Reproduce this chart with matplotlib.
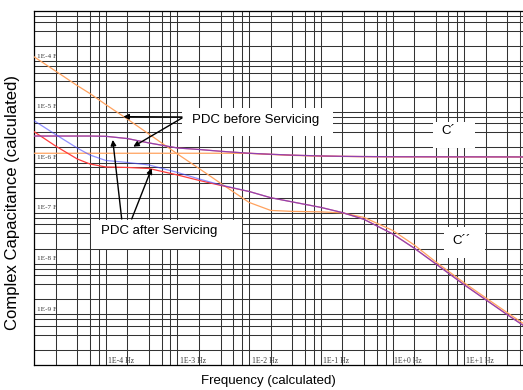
"""
PDC derived complex capacitance (C' and C'') versus calculated frequency,
before and after servicing, drawn on a log-log grid.
"""

import matplotlib
matplotlib.use('Agg')
import matplotlib.pyplot as plt
from matplotlib.ticker import FixedLocator, NullLocator
from matplotlib.patches import Rectangle

W, H = 523, 390

# calculated frequency in Hz
freq = [5e-6, 1e-5, 2e-5, 3e-5, 5e-5, 1e-4, 2e-4, 5e-4, 1e-3, 2e-3, 5e-3,
        1e-2, 2e-2, 5e-2, 0.1, 0.2, 0.5, 1, 2, 5, 10, 20, 33]

# before servicing (orange)
before_c1 = [7.63e-7, 7.63e-7, 7.63e-7, 7.63e-7, 7.63e-7, 7.63e-7, 7.63e-7,
             7.63e-7, 7.63e-7, 7.63e-7, 7.58e-7, 7.22e-7, 6.92e-7, 6.69e-7,
             6.60e-7, 6.53e-7, 6.50e-7, 6.49e-7, 6.48e-7, 6.47e-7, 6.46e-7,
             6.46e-7, 6.45e-7]
before_c2 = [6.15e-5, 3.21e-5, 1.66e-5, 1.16e-5, 7.0e-6, 3.62e-6, 1.83e-6,
             7.39e-7, 3.82e-7, 1.95e-7, 8.15e-8, 5.66e-8, 5.42e-8, 5.30e-8,
             5.06e-8, 4.12e-8, 2.29e-8, 1.18e-8, 5.46e-9, 2.10e-9, 1.06e-9,
             5.38e-10, 3.34e-10]

# after servicing, two measurements (red and blue), same C'
after_c1 = [1.67e-6, 1.67e-6, 1.67e-6, 1.67e-6, 1.65e-6, 1.49e-6, 1.22e-6,
            9.7e-7, 9.06e-7, 8.35e-7, 7.63e-7, 7.29e-7, 7.0e-7, 6.75e-7,
            6.63e-7, 6.57e-7, 6.51e-7, 6.50e-7, 6.49e-7, 6.48e-7, 6.47e-7,
            6.46e-7, 6.45e-7]
after_blue_c2 = [3.36e-6, 1.79e-6, 9.7e-7, 7.06e-7, 5.50e-7, 5.02e-7, 4.48e-7,
                 3.19e-7, 2.37e-7, 1.81e-7, 1.34e-7, 1.01e-7, 8.34e-8, 6.50e-8,
                 5.13e-8, 3.77e-8, 1.95e-8, 1.02e-8, 4.99e-9, 1.92e-9, 9.7e-10,
                 4.91e-10, 3.05e-10]
after_red_c2 = [2.04e-6, 1.06e-6, 5.89e-7, 4.69e-7, 4.09e-7, 4.00e-7, 3.82e-7,
                2.84e-7, 2.22e-7, 1.77e-7, 1.34e-7, 1.01e-7, 8.34e-8, 6.50e-8,
                5.13e-8, 3.77e-8, 1.95e-8, 1.02e-8, 4.99e-9, 1.92e-9, 9.7e-10,
                4.91e-10, 3.05e-10]

x_decades = [-4, -3, -2, -1, 0, 1]
y_decades = [-4, -5, -6, -7, -8, -9]

ORANGE = '#FFA25E'
RED = '#FF3C3C'
BLUE = '#4646FF'
SANS = ['Liberation Sans', 'DejaVu Sans']
SERIF = ['Liberation Serif', 'DejaVu Serif']


def fig_px(x, y):
    """figure pixels measured from the top left corner"""
    return x, H - y


def grid_positions(first, last):
    # the software only draws 1..5 inside each decade
    return [m * 10.0 ** k for k in range(first, last + 1) for m in (1, 2, 3, 4, 5)]


fig = plt.figure(figsize=(W / 100, H / 100), dpi=100)
ax = fig.add_axes([34 / W, 1 - 365 / H, (W - 34) / W, (365 - 10.7) / H])
ax.set_xscale('log')
ax.set_yscale('log')
ax.set_xlim(5e-6, 33)
ax.set_ylim(5e-11, 5e-4)

ax.xaxis.set_major_locator(FixedLocator(grid_positions(-6, 1)))
ax.yaxis.set_major_locator(FixedLocator(grid_positions(-11, -4)))
ax.xaxis.set_minor_locator(NullLocator())
ax.yaxis.set_minor_locator(NullLocator())
ax.tick_params(which='both', length=0, labelbottom=False, labelleft=False)
ax.set_axisbelow(True)
ax.grid(True, which='major', color='#333333', linewidth=0.75)
ax.spines['right'].set_visible(False)
for side in ('left', 'top', 'bottom'):
    ax.spines[side].set_linewidth(0.9)

# curves
ax.plot(freq, before_c1, color=ORANGE, lw=0.9, zorder=3)
ax.plot(freq, before_c2, color=ORANGE, lw=0.9, zorder=3)
ax.plot(freq, after_c1, color=RED, lw=0.9, zorder=3)
ax.plot(freq, after_red_c2, color=RED, lw=0.9, zorder=3)
ax.plot(freq, after_c1, color=BLUE, lw=0.9, alpha=0.6, zorder=3)
ax.plot(freq, after_blue_c2, color=BLUE, lw=0.9, alpha=0.6, zorder=3)

# decade labels inside the plot
for k in y_decades:
    ax.annotate(f'1E{k} F', xy=(0, 10.0 ** k), xycoords=('axes fraction', 'data'),
                xytext=(3, -10), textcoords='offset pixels', ha='left', va='center',
                fontsize=5.2, family=SERIF, color='#3a3a3a')
for k in x_decades:
    ax.annotate(f'1E{k:+d} Hz', xy=(10.0 ** k, 0), xycoords=('data', 'axes fraction'),
                xytext=(-6, 4), textcoords='offset pixels', ha='center', va='center',
                fontsize=5.6, family=SERIF, color='#3a3a3a')

# white label boxes
boxes = [(182, 108, 151, 28), (91, 220, 151, 29), (433, 122, 42, 26), (444, 227, 41, 31)]
for bx, by, bw, bh in boxes:
    x0, y0 = fig_px(bx, by + bh)
    ax.add_patch(Rectangle((x0 / W, y0 / H), bw / W, bh / H, transform=fig.transFigure,
                           facecolor='white', edgecolor='none', zorder=2, clip_on=False))

for text, (tx, ty) in [('PDC before Servicing', (256, 120)),
                       ('PDC after Servicing', (159, 231)),
                       ('C\u00b4', (448, 131)),
                       ('C\u00b4\u00b4', (462, 241))]:
    px, py = fig_px(tx, ty)
    fig.text(px / W, py / H, text, fontsize=9.5, family=SANS, ha='center', va='center',
             zorder=5)

# arrows: tail at the label, head on the curve
arrow_kw = dict(arrowstyle='-|>', color='black', lw=1.0, mutation_scale=8,
                shrinkA=0, shrinkB=0)
arrows = [((8.8e-5, 4.03e-6), (182, 117)),
          ((1.21e-4, 1.03e-6), (182, 118)),
          ((6.27e-5, 1.40e-6), (121.7, 219)),
          ((2.19e-4, 3.85e-7), (131.7, 219))]
for head, tail in arrows:
    ax.annotate('', xy=head, xycoords='data', xytext=fig_px(*tail),
                textcoords='figure pixels', arrowprops=arrow_kw, zorder=4)

fig.text(268 / W, 1 - 381 / H, 'Frequency (calculated)', fontsize=9.5, family=SANS,
         ha='center', va='center')
fig.text(13 / W, 1 - 202 / H, 'Complex Capacitance (calculated)', fontsize=12,
         family=SANS, ha='center', va='center', rotation=90)

fig.savefig('out.png', dpi=100)
